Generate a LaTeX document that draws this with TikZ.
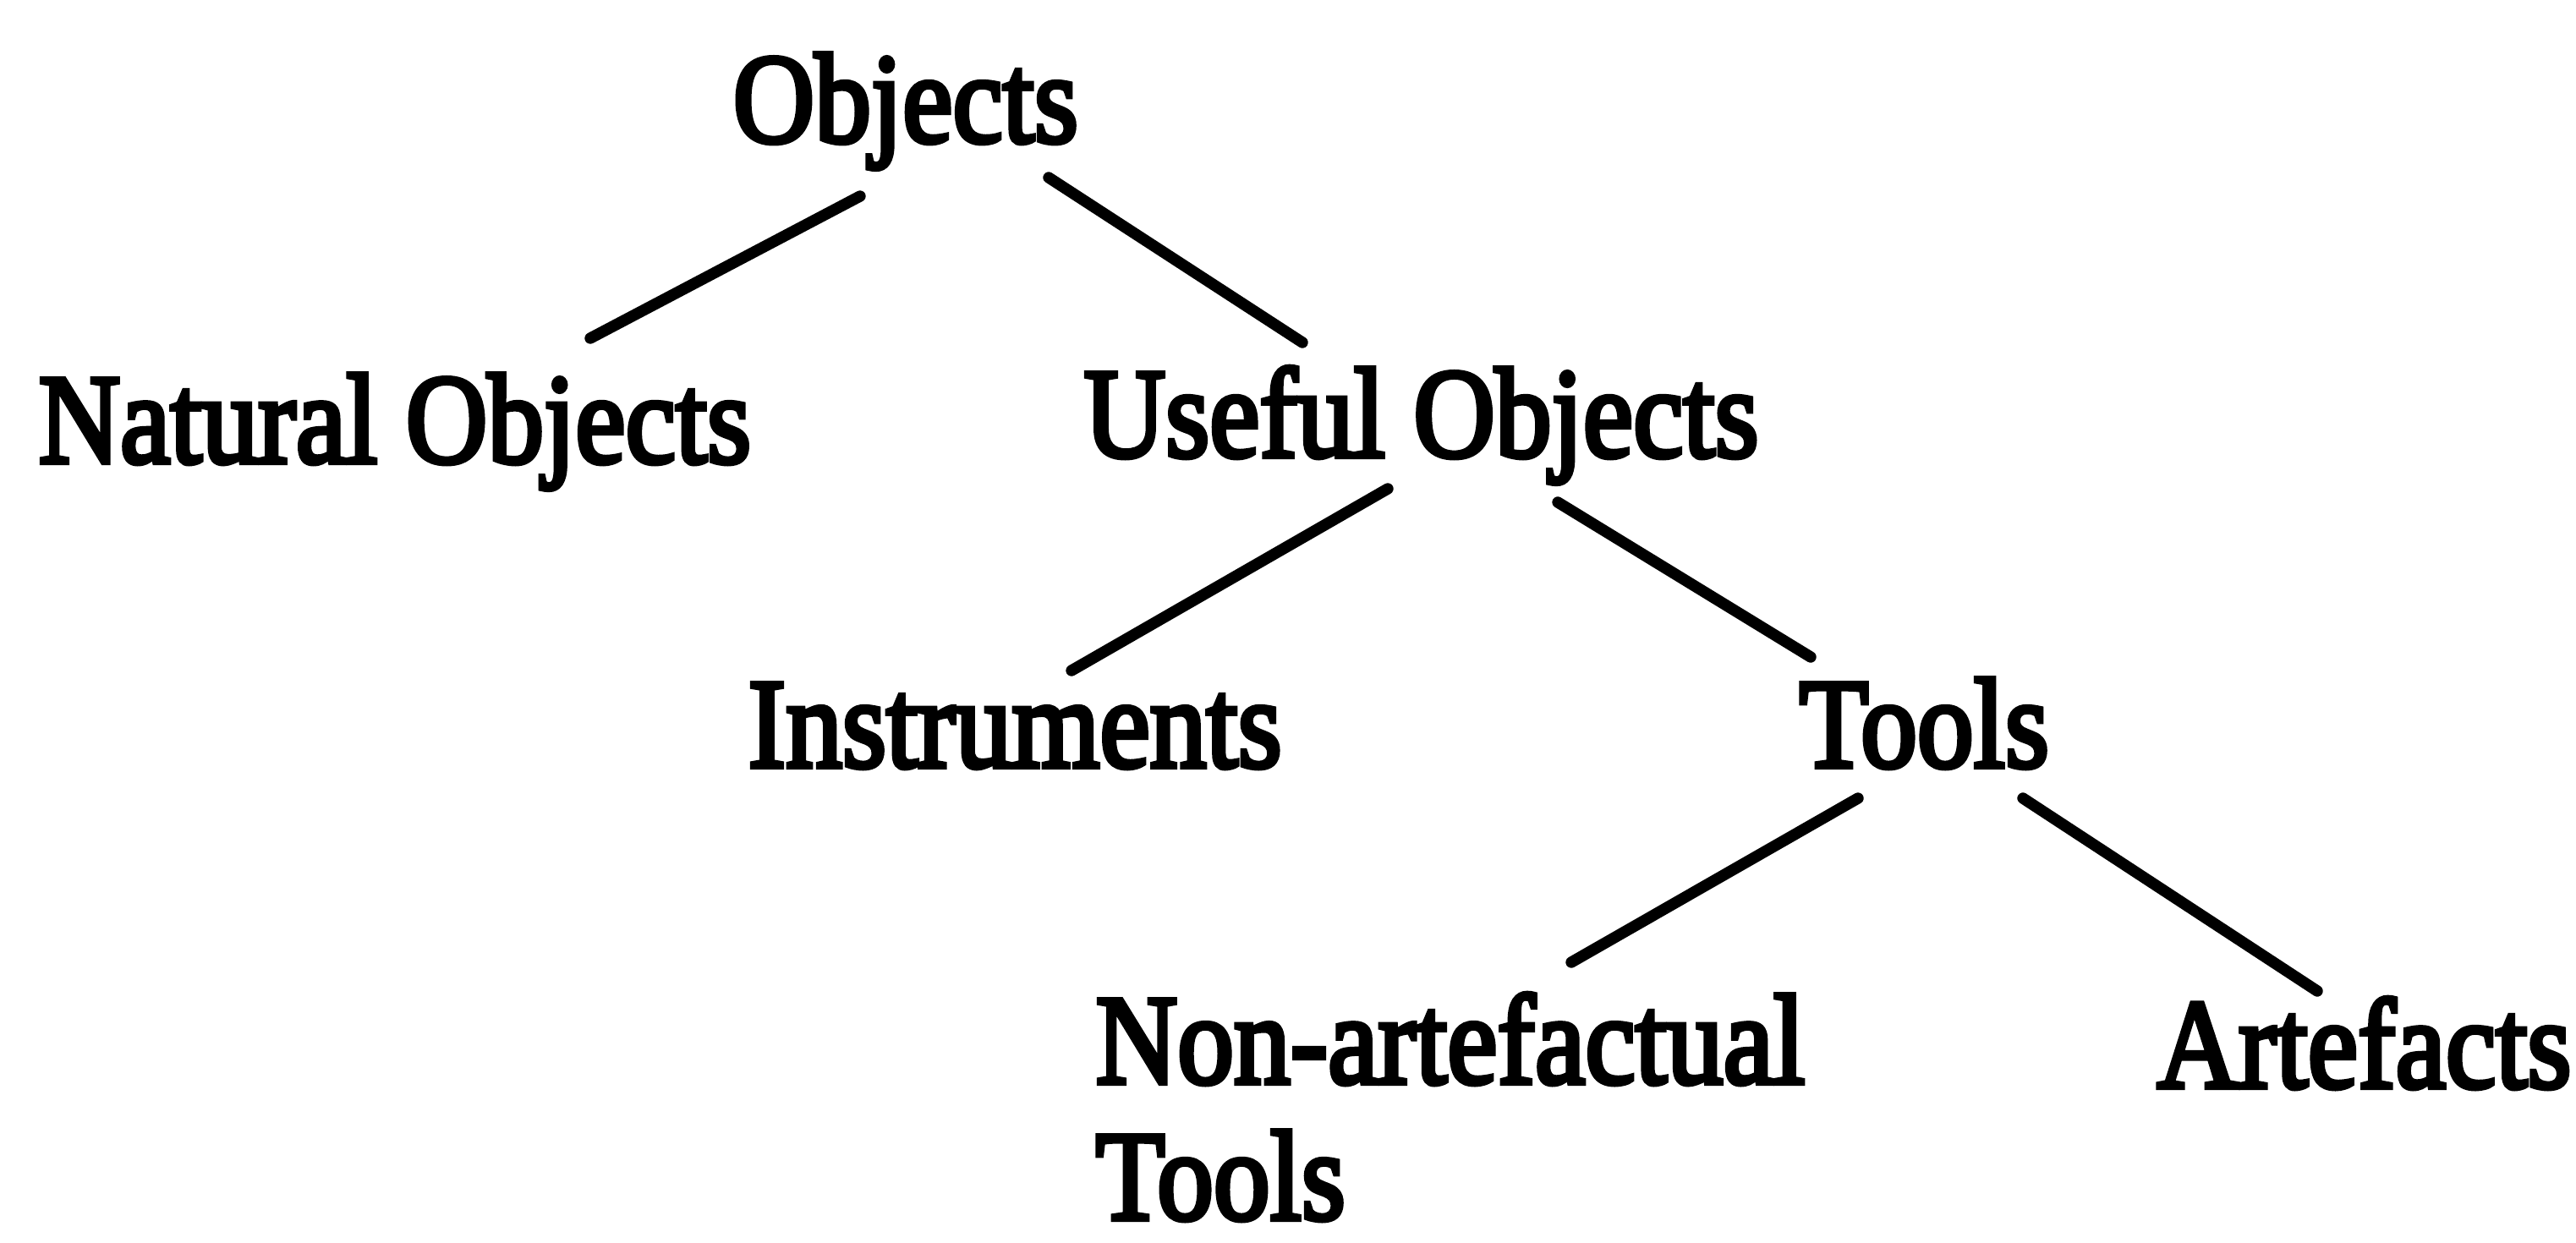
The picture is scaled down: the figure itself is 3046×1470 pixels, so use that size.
\documentclass[tikz,border=0pt]{standalone}
\usepackage{fontspec}
\setmainfont[FakeBold=4]{Liberation Serif}
\newcommand\tx[1]{\scalebox{1}[1.13]{#1}}
\tikzset{
  lbl/.style={anchor=base west, inner sep=0pt, font=\fontsize{38}{46}\selectfont},
  edge/.style={line width=3.8pt, line cap=round}
}
\begin{document}
\begin{tikzpicture}[x=0.01cm, y=-0.01cm]
\useasboundingbox (0,0) rectangle (3046,1470);
% labels
\node[lbl] (obj)    at (866,168)   {\tx{Objects}};
\node[lbl] (nat)    at (45,547)    {\tx{Natural Objects}};
\node[lbl] (use)    at (1281,540)  {\tx{Useful Objects}};
\node[lbl] (ins)    at (884,907)   {\tx{Instruments}};
\node[lbl] (tool)   at (2127,907)  {\tx{Tools}};
\node[lbl] (nonart) at (1295,1281) {\tx{Non-artefactual}};
\node[lbl] (nonart2) at (1295,1442) {\tx{Tools}};
\node[lbl] (art)    at (2550,1286) {\tx{Artefacts}};
% connector ends
\coordinate (a1) at (1017,232);  \coordinate (b1) at (698,400);
\coordinate (a2) at (1240,210);  \coordinate (b2) at (1540,405);
\coordinate (a3) at (1641,578);  \coordinate (b3) at (1267,793);
\coordinate (a4) at (1842,594);  \coordinate (b4) at (2141,777);
\coordinate (a5) at (2197,944);  \coordinate (b5) at (1858,1138);
\coordinate (a6) at (2392,944);  \coordinate (b6) at (2740,1172);
\draw[edge] (a1) -- (b1);
\draw[edge] (a2) -- (b2);
\draw[edge] (a3) -- (b3);
\draw[edge] (a4) -- (b4);
\draw[edge] (a5) -- (b5);
\draw[edge] (a6) -- (b6);
\end{tikzpicture}
\end{document}
